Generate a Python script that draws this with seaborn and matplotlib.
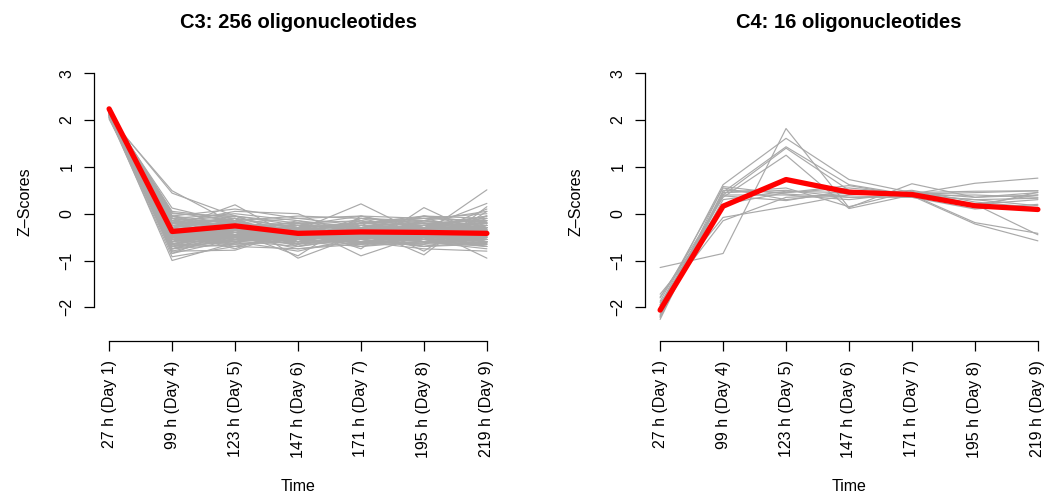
import pandas as pd
import matplotlib
matplotlib.use("Agg")
import matplotlib.pyplot as plt
import seaborn as sns

time_labels = ["27 h (Day 1)", "99 h (Day 4)", "123 h (Day 5)", "147 h (Day 6)",
               "171 h (Day 7)", "195 h (Day 8)", "219 h (Day 9)"]

# cluster C3: profiles (a sample of the 256 oligos)
c3_profiles = [
    [2.05, 0.49, -0.22, -0.50, -0.52, -0.55, -0.62],
    [2.08, 0.44, -0.05, -0.48, -0.62, -0.60, -0.70],
    [2.12, 0.12, -0.20, -0.55, -0.45, -0.60, -0.55],
    [2.02, -0.55, -0.58, -0.70, -0.52, -0.42, 0.51],
    [2.10, -0.45, -0.50, -0.40, -0.35, -0.30, 0.22],
    [2.18, -0.25, -0.45, -0.35, 0.21, -0.45, -0.60],
    [2.10, -1.00, -0.62, -0.30, -0.35, -0.25, -0.05],
    [2.06, -0.92, -0.70, -0.45, -0.10, -0.15, 0.05],
    [2.08, -0.30, -0.10, -0.95, -0.45, -0.50, -0.15],
    [2.12, -0.50, -0.30, -0.25, -0.90, -0.45, 0.10],
    [2.05, -0.45, -0.55, -0.45, -0.30, -0.88, 0.15],
    [2.10, -0.55, -0.45, -0.55, -0.35, -0.30, -0.95],
    [2.12, -0.30, 0.19, -0.55, -0.60, -0.50, -0.45],
    [2.15, -0.80, -0.78, -0.35, -0.20, -0.05, -0.10],
    [2.10, -0.20, 0.05, 0.00, -0.55, -0.70, -0.60],
    [2.14, -0.65, -0.40, -0.90, -0.05, -0.35, -0.30],
    [2.05, -0.40, -0.75, -0.30, -0.75, 0.13, -0.50],
    [2.08, -0.85, -0.35, -0.60, -0.20, -0.80, 0.05],
    [2.22, -0.35, -0.25, -0.40, -0.40, -0.42, -0.45],
    [2.24, -0.40, -0.30, -0.45, -0.35, -0.38, -0.40],
    [2.20, -0.20, -0.15, -0.50, -0.45, -0.50, -0.45],
    [2.21, -0.50, -0.35, -0.30, -0.45, -0.40, -0.35],
    [2.23, -0.30, -0.40, -0.45, -0.30, -0.45, -0.50],
    [2.18, -0.60, -0.20, -0.35, -0.50, -0.30, -0.30],
    [2.20, -0.10, -0.30, -0.55, -0.40, -0.50, -0.40],
    [2.16, -0.70, -0.45, -0.25, -0.30, -0.35, -0.20],
    [2.19, -0.45, -0.10, -0.60, -0.35, -0.30, -0.45],
    [2.22, -0.25, -0.35, -0.30, -0.50, -0.55, -0.35],
    [2.17, -0.55, -0.50, -0.20, -0.25, -0.45, -0.30],
    [2.20, -0.35, -0.20, -0.65, -0.45, -0.25, -0.30],
    [2.15, -0.05, -0.40, -0.50, -0.55, -0.40, -0.50],
    [2.18, -0.65, -0.30, -0.40, -0.15, -0.50, -0.25],
    [2.21, -0.40, -0.45, -0.35, -0.40, -0.20, -0.50],
    [2.19, -0.15, -0.25, -0.45, -0.60, -0.45, -0.35],
    [2.16, -0.50, -0.60, -0.50, -0.20, -0.10, -0.40],
    [2.22, -0.30, -0.15, -0.40, -0.45, -0.50, -0.55],
    [2.14, -0.75, -0.35, -0.45, -0.25, -0.30, -0.15],
    [2.20, -0.45, -0.25, -0.20, -0.55, -0.45, -0.40],
    [2.18, -0.20, -0.50, -0.60, -0.35, -0.30, -0.35],
    [2.23, -0.35, -0.35, -0.35, -0.45, -0.40, -0.45],
    [2.17, -0.60, -0.15, -0.50, -0.40, -0.55, -0.20],
    [2.20, -0.25, -0.40, -0.25, -0.30, -0.60, -0.50],
    [2.15, -0.50, -0.20, -0.70, -0.50, -0.15, -0.25],
    [2.21, -0.40, -0.30, -0.55, -0.25, -0.35, -0.55],
    [2.13, -0.10, -0.55, -0.40, -0.65, -0.40, -0.25],
    [2.19, -0.55, -0.40, -0.15, -0.40, -0.50, -0.35],
    [2.16, -0.30, -0.05, -0.45, -0.55, -0.35, -0.60],
    [2.22, -0.45, -0.30, -0.40, -0.35, -0.45, -0.35],
    [2.12, -0.70, -0.55, -0.30, -0.45, -0.05, -0.30],
    [2.18, -0.15, -0.35, -0.55, -0.30, -0.60, -0.40],
    [2.20, -0.35, -0.50, -0.45, -0.50, -0.25, -0.20],
    [2.14, -0.60, -0.25, -0.65, -0.10, -0.40, -0.45],
    [2.21, -0.25, -0.20, -0.35, -0.60, -0.45, -0.50],
    [2.17, -0.50, -0.45, -0.50, -0.30, -0.55, -0.05],
    [2.10, -0.75, -0.65, -0.55, -0.60, -0.55, -0.65],
    [2.12, -0.65, -0.70, -0.75, -0.65, -0.60, -0.75],
    [2.15, 0.00, -0.05, -0.20, -0.15, -0.25, -0.10],
    [2.12, -0.05, 0.10, -0.10, -0.05, -0.10, 0.00],
    [2.16, -0.80, -0.50, -0.65, -0.55, -0.70, -0.45],
    [2.14, -0.70, -0.60, -0.80, -0.50, -0.45, -0.70],
    [2.19, -0.55, -0.65, -0.60, -0.70, -0.60, -0.55],
    [2.13, -0.60, -0.45, -0.75, -0.60, -0.75, -0.80],
    [2.17, 0.05, -0.10, -0.30, -0.20, -0.15, -0.30],
    [2.15, -0.10, 0.00, -0.15, -0.30, -0.05, -0.20],
    [2.18, 0.02, -0.15, -0.05, -0.10, -0.20, -0.15],
    [2.20, -0.15, -0.05, -0.25, -0.05, -0.30, -0.05],
    [2.21, -0.45, -0.60, -0.30, -0.55, -0.65, -0.60],
    [2.19, -0.65, -0.50, -0.45, -0.70, -0.50, -0.60],
    [2.16, -0.35, -0.65, -0.55, -0.45, -0.70, -0.65],
    [2.22, -0.55, -0.35, -0.70, -0.35, -0.55, -0.70],
    [2.18, -0.05, -0.20, -0.10, -0.25, -0.35, -0.25],
    [2.14, -0.20, -0.10, -0.30, -0.20, -0.10, -0.15],
    [2.20, -0.50, -0.55, -0.65, -0.45, -0.60, -0.65],
    [2.17, -0.75, -0.45, -0.55, -0.65, -0.65, -0.40],
    [2.23, -0.30, -0.50, -0.25, -0.50, -0.35, -0.60],
    [2.15, -0.45, -0.15, -0.45, -0.25, -0.20, -0.30],
    [2.19, -0.60, -0.35, -0.60, -0.55, -0.35, -0.55],
    [2.21, -0.25, -0.45, -0.40, -0.20, -0.25, -0.40],
    [2.16, -0.40, -0.60, -0.35, -0.60, -0.65, -0.25],
    [2.18, -0.10, -0.20, -0.35, -0.35, -0.25, -0.20],
    [2.20, -0.50, -0.25, -0.50, -0.45, -0.35, -0.35],
    [2.13, -0.85, -0.55, -0.45, -0.40, -0.45, -0.55],
    [2.15, -0.20, -0.30, -0.20, -0.40, -0.55, -0.10],
    [2.22, -0.40, -0.40, -0.60, -0.35, -0.30, -0.60],
    [2.17, -0.30, -0.55, -0.35, -0.50, -0.45, -0.25],
    [2.19, -0.70, -0.30, -0.45, -0.35, -0.60, -0.40],
    [2.14, -0.15, -0.45, -0.50, -0.30, -0.20, -0.45],
    [2.20, -0.55, -0.25, -0.25, -0.60, -0.40, -0.60],
    [2.18, -0.35, -0.55, -0.55, -0.15, -0.50, -0.30],
    [2.16, -0.65, -0.40, -0.30, -0.45, -0.25, -0.50],
    [2.21, -0.20, -0.25, -0.50, -0.50, -0.60, -0.30],
    [2.15, -0.45, -0.70, -0.40, -0.40, -0.35, -0.45],
    [2.19, -0.25, -0.10, -0.60, -0.30, -0.45, -0.55],
    [2.12, -0.60, -0.60, -0.20, -0.55, -0.30, -0.20],
    [2.20, -0.40, -0.20, -0.45, -0.65, -0.50, -0.35],
    [2.17, -0.50, -0.35, -0.65, -0.25, -0.40, -0.65],
    [2.14, -0.05, -0.30, -0.40, -0.45, -0.55, -0.40],
    [2.18, -0.75, -0.55, -0.50, -0.30, -0.15, -0.35],
]
c3_mean = [2.24, -0.38, -0.26, -0.42, -0.39, -0.40, -0.42]

# cluster C4: all 16 oligos
c4_profiles = [
    [-1.15, -0.85, 1.82, 0.13, 0.64, 0.35, 0.45],
    [-1.95, 0.62, 1.61, 0.73, 0.45, 0.20, -0.45],
    [-2.10, 0.46, 1.43, 0.62, 0.40, -0.19, -0.42],
    [-2.20, 0.40, 1.40, 0.50, 0.38, -0.22, -0.58],
    [-1.80, 0.35, 1.25, 0.11, 0.40, 0.30, 0.17],
    [-2.26, 0.50, 0.45, 0.55, 0.42, 0.65, 0.76],
    [-1.72, -0.08, 0.15, 0.40, 0.45, 0.48, 0.49],
    [-1.87, 0.55, 0.30, 0.45, 0.35, 0.20, 0.40],
    [-2.05, 0.45, 0.50, 0.35, 0.40, 0.30, 0.33],
    [-2.15, 0.30, 0.48, 0.45, 0.38, 0.15, 0.46],
    [-1.90, -0.15, 0.35, 0.40, 0.50, 0.25, 0.13],
    [-2.00, 0.40, 0.40, 0.30, 0.45, 0.35, 0.40],
    [-2.22, 0.45, 0.55, 0.15, 0.48, 0.20, 0.30],
    [-1.95, 0.38, 0.28, 0.50, 0.42, 0.45, 0.49],
    [-2.18, 0.58, 0.42, 0.35, 0.35, 0.10, 0.20],
    [-1.78, 0.20, 0.45, 0.60, 0.38, 0.40, 0.35],
]
c4_mean = [-2.06, 0.16, 0.73, 0.46, 0.41, 0.17, 0.09]

panels = [("C3: 256 oligonucleotides", c3_profiles, c3_mean),
          ("C4: 16 oligonucleotides", c4_profiles, c4_mean)]


def to_long(profiles):
    rows = []
    for i, prof in enumerate(profiles):
        for j, z in enumerate(prof):
            rows.append({"probe": i, "t": j + 1, "z": z})
    return pd.DataFrame(rows)


sns.set_style("ticks")
plt.rcParams["font.family"] = ["Liberation Sans", "DejaVu Sans"]
plt.rcParams["text.color"] = "black"
plt.rcParams["axes.labelcolor"] = "black"

fig = plt.figure(figsize=(10.49, 4.94), dpi=100)
lefts = [94 / 1049, 645 / 1049]
for left, (title, profiles, mean) in zip(lefts, panels):
    ax = fig.add_axes([left, 1 - 341 / 494, 408 / 1049, 278 / 494])
    df = to_long(profiles)
    sns.lineplot(data=df, x="t", y="z", units="probe", estimator=None,
                 color="#a9a9a9", lw=0.85, ax=ax)
    mdf = pd.DataFrame({"t": range(1, 8), "z": mean})
    sns.lineplot(data=mdf, x="t", y="z", color="red", lw=3.8, ax=ax)

    ax.set_xlim(0.76, 7.24)
    ax.set_ylim(-2.72, 3.22)
    ax.set_xticks(range(1, 8))
    ax.set_xticklabels(time_labels, rotation=90, fontsize=11.5)
    ax.set_yticks(range(-2, 4))
    ax.set_yticklabels([str(v).replace("-", "\u2212") for v in range(-2, 4)],
                       rotation=90, va="center", fontsize=11.5)
    for s in ["top", "right"]:
        ax.spines[s].set_visible(False)
    ax.spines["left"].set_bounds(-2, 3)
    ax.spines["bottom"].set_bounds(1, 7)
    for s in ["left", "bottom"]:
        ax.spines[s].set_linewidth(0.9)
        ax.spines[s].set_color("black")
    ax.tick_params(direction="out", length=7, width=0.9, pad=7, colors="black")
    ax.set_xlabel("Time", fontsize=11.5, color="black")
    ax.set_ylabel("Z\u2013Scores", fontsize=11.5, color="black")
    ax.xaxis.set_label_coords(0.5, -0.495)
    ax.yaxis.set_label_coords(-0.15, 0.5)
    ax.set_title(title, fontsize=14.5, fontweight="bold", pad=25, color="black")

plt.savefig("out.png", dpi=100)
plt.close()
